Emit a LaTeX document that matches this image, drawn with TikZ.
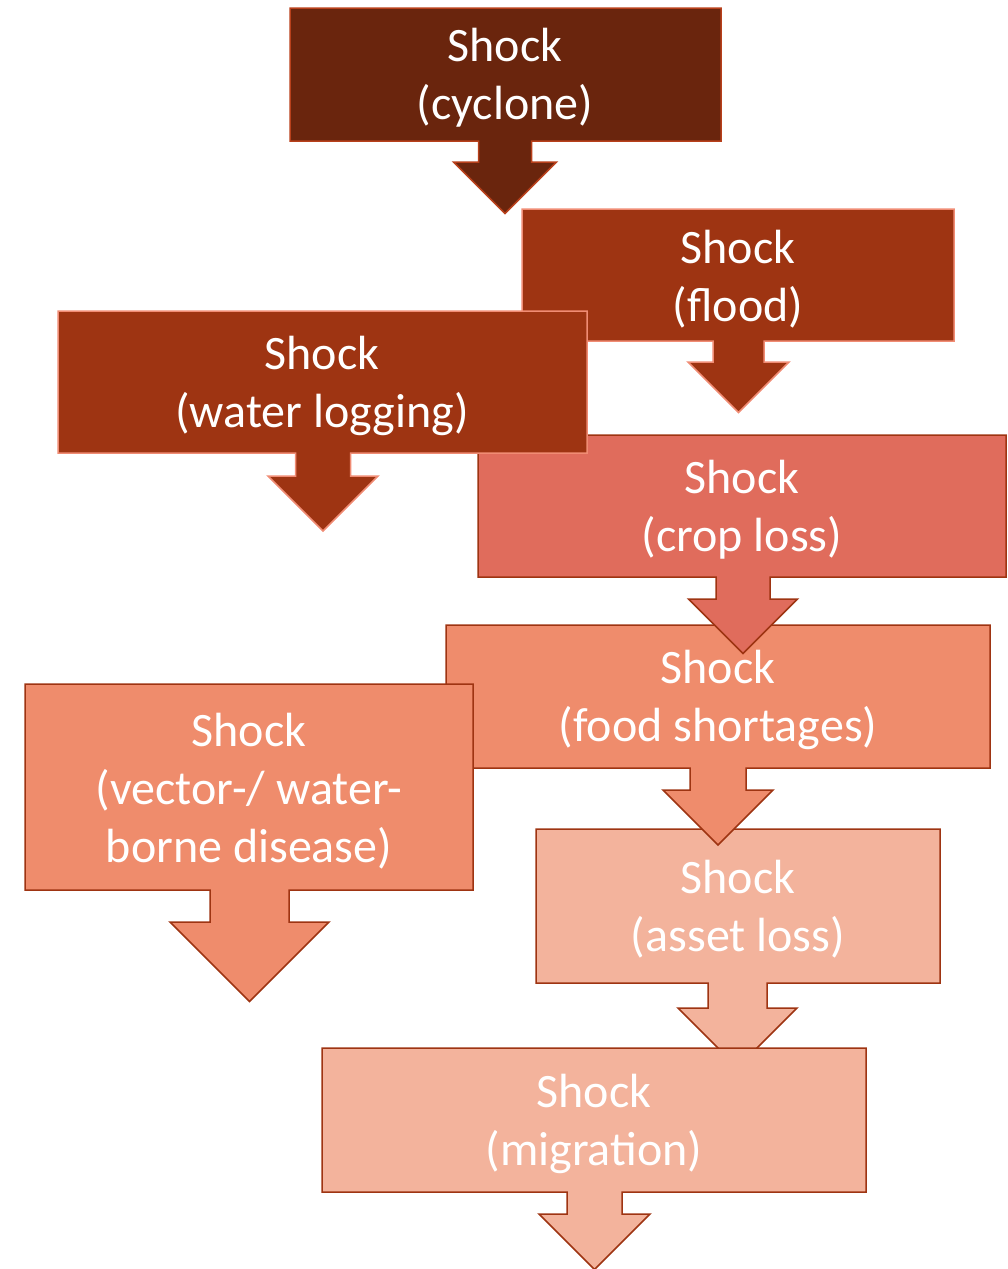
\documentclass[tikz,border=0pt]{standalone}
\usepackage{fontspec}
\setmainfont{Carlito}
\definecolor{cycfill}{HTML}{6A250D}
\definecolor{cycline}{HTML}{B8401B}
\definecolor{redfill}{HTML}{9E3412}
\definecolor{redline}{HTML}{F08C74}
\definecolor{cropfill}{HTML}{E06C5C}
\definecolor{darkline}{HTML}{9E3412}
\definecolor{orfill}{HTML}{EF8C6C}
\definecolor{pkfill}{HTML}{F3B39C}
% #1 left, #2 top, #3 right, #4 bottom, #5 centre x, #6 shaft half width,
% #7 head half width, #8 shoulder y, #9 style
\newcommand\shockshape[9]{%
  \draw[shockline,#9] (#1,#2) -- (#3,#2) -- (#3,#4) -- (#5+#6,#4) -- (#5+#6,#8)
    -- (#5+#7,#8) -- (#5,#8+#7) -- (#5-#7,#8) -- (#5-#6,#8) -- (#5-#6,#4)
    -- (#1,#4) -- cycle;}
\tikzset{
  shockline/.style={line width=1.5pt, line join=miter},
  cyc/.style={fill=cycfill, draw=cycline},
  red/.style={fill=redfill, draw=redline},
  crop/.style={fill=cropfill, draw=darkline},
  ora/.style={fill=orfill, draw=darkline},
  pnk/.style={fill=pkfill, draw=darkline},
  lbl/.style={text=white, align=center, font=\fontsize{48}{58}\selectfont, inner sep=0pt}
}
\begin{document}
\begin{tikzpicture}[x=1pt, y=-1pt]
\useasboundingbox (0,0) rectangle (1008,1269);
% asset loss
\shockshape{536}{829}{940}{983}{737.5}{29.5}{59.5}{1008}{pnk}
\node[lbl] (asset) at (738,909) {Shock\\(asset loss)};
% migration
\shockshape{322}{1048}{866}{1192}{594.5}{27.5}{55.5}{1214}{pnk}
\node[lbl] (migration) at (594,1124) {Shock\\(migration)};
% food shortages
\shockshape{446}{625}{990}{768}{718}{28}{55}{790}{ora}
\node[lbl] (food) at (718,700) {Shock\\(food shortages)};
% crop loss
\shockshape{478}{435}{1006}{577}{743}{27}{54.5}{599}{crop}
\node[lbl] (crop) at (742,510) {Shock\\(crop loss)};
% flood
\shockshape{522}{209}{954}{341}{738.5}{25.5}{50.5}{362}{red}
\node[lbl] (flood) at (738,279) {Shock\\(flood)};
% water logging
\shockshape{58}{311}{587}{453}{323}{27.5}{55}{476}{red}
\node[lbl] (water) at (322,386) {Shock\\(water logging)};
% vector-/ water-borne disease
\shockshape{25}{684}{473}{890}{249.5}{39.5}{79.5}{922}{ora}
\node[lbl] (vector) at (249,791) {Shock\\(vector-/ water-\\borne disease)};
% cyclone
\shockshape{290}{8}{721}{141}{505}{26.5}{51.5}{162}{cyc}
\node[lbl] (cyclone) at (505,78) {Shock\\(cyclone)};
\end{tikzpicture}
\end{document}
